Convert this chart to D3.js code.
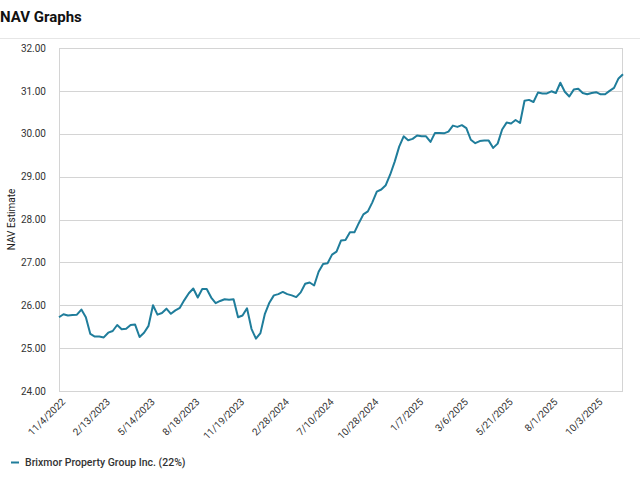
<!DOCTYPE html>
<html>
<head>
<meta charset="utf-8">
<script src="https://cdn.jsdelivr.net/npm/d3@7"></script>
<style>
  body { margin: 0; background: #fff; font-family: Roboto, "Liberation Sans", sans-serif; }
</style>
</head>
<body>
<div id="chart"></div>
<script>
// tick labels (every 10th point)
var tickLabels = ["11/4/2022", "2/13/2023", "5/14/2023", "8/18/2023", "11/19/2023", "2/28/2024",
    "7/10/2024", "10/28/2024", "1/7/2025", "3/6/2025", "5/21/2025", "8/1/2025", "10/3/2025"];
var yTicks = [24, 25, 26, 27, 28, 29, 30, 31, 32];
var seriesName = "Brixmor Property Group Inc. (22%)";

// NAV estimate
var nav = [
    25.72, 25.79, 25.76, 25.77, 25.78, 25.90, 25.72, 25.33, 25.27, 25.27,
    25.25, 25.36, 25.40, 25.54, 25.44, 25.45, 25.54, 25.55, 25.26, 25.36,
    25.52, 26.00, 25.78, 25.82, 25.92, 25.80, 25.88, 25.94, 26.12, 26.28,
    26.39, 26.18, 26.38, 26.38, 26.18, 26.05, 26.10, 26.14, 26.13, 26.14,
    25.72, 25.76, 25.93, 25.45, 25.22, 25.35, 25.80, 26.06, 26.23, 26.26,
    26.31, 26.26, 26.23, 26.19, 26.30, 26.50, 26.53, 26.46, 26.78, 26.96,
    26.98, 27.18, 27.25, 27.51, 27.52, 27.70, 27.70, 27.92, 28.12, 28.19,
    28.40, 28.65, 28.70, 28.80, 29.05, 29.35, 29.70, 29.94, 29.85, 29.88,
    29.96, 29.94, 29.94, 29.81, 30.02, 30.02, 30.01, 30.05, 30.19, 30.16,
    30.20, 30.13, 29.86, 29.78, 29.83, 29.84, 29.84, 29.67, 29.77, 30.10,
    30.26, 30.24, 30.32, 30.25, 30.77, 30.79, 30.74, 30.96, 30.94, 30.94,
    30.99, 30.95, 31.19, 30.98, 30.87, 31.03, 31.05, 30.95, 30.92, 30.95,
    30.97, 30.92, 30.92, 31.00, 31.07, 31.29, 31.39
];

var W = 640, H = 485;
var margin = { top: 48, right: 17, bottom: 94, left: 59 };
var width = W - margin.left - margin.right;
var height = H - margin.top - margin.bottom;
var lineColor = "#1f7d9b";

var root = d3.select("#chart").append("svg")
    .attr("width", W)
    .attr("height", H);

// title + divider
root.append("text")
    .attr("x", 0)
    .attr("y", 22)
    .style("font-size", "15px")
    .style("font-weight", "bold")
    .style("fill", "#111")
    .text("NAV Graphs");
root.append("line")
    .attr("x1", 0).attr("x2", W)
    .attr("y1", 38.5).attr("y2", 38.5)
    .style("stroke", "#e6e6e6");

var svg = root.append("g")
    .attr("transform", "translate(" + margin.left + "," + margin.top + ")");

var x = d3.scaleLinear()
    .domain([0, nav.length - 1])
    .range([0, width]);
var y = d3.scaleLinear()
    .domain([24, 32])
    .range([height, 0]);

// gridlines
svg.append("g")
    .selectAll("line")
    .data(yTicks)
    .enter().append("line")
    .attr("x1", 0).attr("x2", width)
    .attr("y1", d => Math.round(y(d)) + 0.5)
    .attr("y2", d => Math.round(y(d)) + 0.5)
    .style("stroke", "#d4d4d4");

// frame sides
svg.append("line").attr("x1", 0.5).attr("x2", 0.5).attr("y1", 0).attr("y2", height).style("stroke", "#d4d4d4");
svg.append("line").attr("x1", width - 0.5).attr("x2", width - 0.5).attr("y1", 0).attr("y2", height).style("stroke", "#d4d4d4");

// Y axis
var yAxis = svg.append("g")
    .call(d3.axisLeft(y).tickValues(yTicks).tickFormat(d3.format(".2f")).tickSize(0).tickPadding(13));
yAxis.select(".domain").remove();
yAxis.selectAll("text")
    .style("font-size", "10px")
    .style("fill", "#333")
    .style("font-family", "Roboto, sans-serif");

// Y label
svg.append("text")
    .attr("text-anchor", "middle")
    .attr("transform", "rotate(-90)")
    .attr("x", -height / 2)
    .attr("y", -44)
    .style("font-size", "10px")
    .style("fill", "#222")
    .text("NAV Estimate");

// X axis
var xAxis = svg.append("g")
    .attr("transform", "translate(0," + height + ")")
    .call(d3.axisBottom(x)
        .tickValues(tickLabels.map((d, i) => i * 10))
        .tickFormat(d => tickLabels[d / 10])
        .tickSize(0));
xAxis.select(".domain").remove();
xAxis.selectAll("text")
    .attr("text-anchor", "end")
    .attr("transform", "translate(4,9) rotate(-45)")
    .attr("dy", "0.35em")
    .attr("y", 0)
    .style("font-size", "10px")
    .style("fill", "#333")
    .style("font-family", "Roboto, sans-serif");

// line
svg.append("path")
    .datum(nav)
    .attr("fill", "none")
    .attr("stroke", lineColor)
    .attr("stroke-width", 2)
    .attr("stroke-linejoin", "round")
    .attr("d", d3.line().x((d, i) => x(i)).y(d => y(d)));

// legend
root.append("line")
    .attr("x1", 11).attr("x2", 19)
    .attr("y1", 462.5).attr("y2", 462.5)
    .style("stroke", lineColor)
    .style("stroke-width", 2);
root.append("text")
    .attr("x", 25)
    .attr("y", 466)
    .style("font-size", "10.5px")
    .style("font-weight", 500)
    .style("fill", "#333")
    .text(seriesName);
</script>
</body>
</html>
